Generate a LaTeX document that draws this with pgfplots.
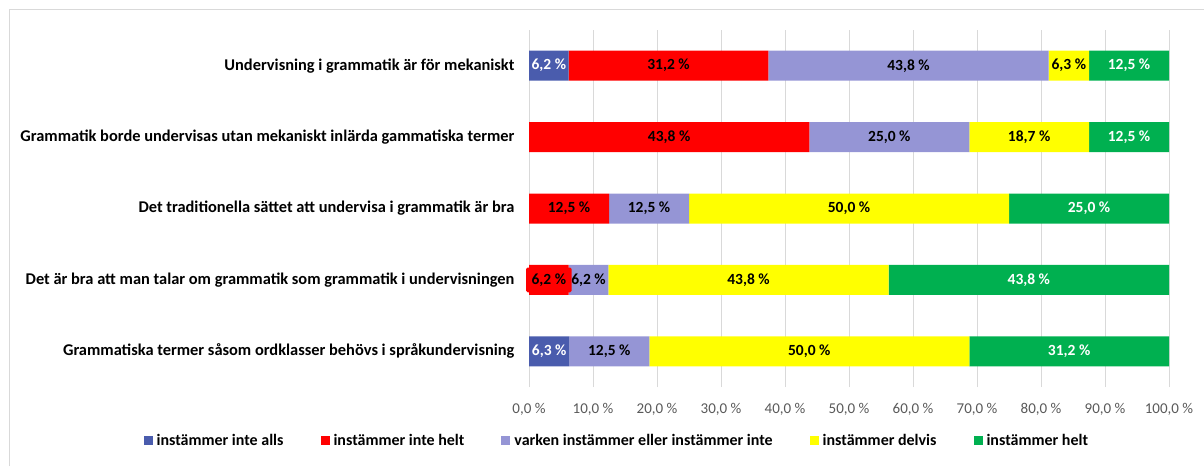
\documentclass[border=0pt]{standalone}
\usepackage{fontspec}
\setmainfont{Carlito}
\usepackage{pgfplots}
\usepackage{pgfplotstable}
\pgfplotsset{compat=1.18}

\definecolor{cA}{HTML}{4A5CAD}
\definecolor{cB}{HTML}{FF0000}
\definecolor{cC}{HTML}{9595D5}
\definecolor{cD}{HTML}{FFFF00}
\definecolor{cE}{HTML}{00B050}
\definecolor{gridgrey}{HTML}{D9D9D9}
\definecolor{tickgrey}{HTML}{595959}
\definecolor{framegrey}{HTML}{D9D9D9}

\newcommand\lblfont{\bfseries\fontsize{15.5}{17}\selectfont}

% y: 0 = bottom category ... 4 = top category
\pgfplotstableread{
y v
0 6.3
1 0
2 0
3 0
4 6.2
}\tblA
\pgfplotstableread{
y v
0 0
1 6.2
2 12.5
3 43.8
4 31.2
}\tblB
\pgfplotstableread{
y v
0 12.5
1 6.2
2 12.5
3 25.0
4 43.8
}\tblC
\pgfplotstableread{
y v
0 50.0
1 43.8
2 50.0
3 18.7
4 6.3
}\tblD
\pgfplotstableread{
y v
0 31.2
1 43.8
2 25.0
3 12.5
4 12.5
}\tblE

\pgfplotsset{
  sqlegend/.style={legend image code/.code={\fill[##1] (0pt,-4.5pt) rectangle (9pt,4.5pt);}},
  seglabel/.style={
    point meta=explicit,
    nodes near coords={\pgfmathfloatifflags{\pgfplotspointmeta}{0}{}{\pgfmathprintnumber[fixed,fixed zerofill,precision=1,use comma,assume math mode=true]{\pgfplotspointmeta}~\%}},
    nodes near coords align=center,
    every node near coord/.append style={anchor=center, font=\lblfont, text=#1, inner xsep=1pt},
  },
}

\begin{document}
\begin{tikzpicture}[x=1pt,y=1pt]
\useasboundingbox (0,0) rectangle (1204,466);
\draw[framegrey, line width=1pt] (9,0) -- (9,456) -- (1204,456);
\begin{axis}[
  at={(529pt,79pt)}, anchor=south west,
  width=640pt, height=357pt, scale only axis,
  xbar stacked, bar width=30pt,
  xmin=0, xmax=100, ymin=-0.5, ymax=4.5,
  xtick={0,10,...,100},
  xticklabels={{0,0 \%},{10,0 \%},{20,0 \%},{30,0 \%},{40,0 \%},{50,0 \%},{60,0 \%},{70,0 \%},{80,0 \%},{90,0 \%},{100,0 \%}},
  ytick={0,1,2,3,4},
  yticklabels={
    Grammatiska termer såsom ordklasser behövs i språkundervisning,
    Det är bra att man talar om grammatik som grammatik i undervisningen,
    Det traditionella sättet att undervisa i grammatik är bra,
    Grammatik borde undervisas utan mekaniskt inlärda gammatiska termer,
    Undervisning i grammatik är för mekaniskt},
  axis line style={draw=none},
  major tick length=0pt,
  xmajorgrids, ymajorgrids=false,
  major grid style={draw=gridgrey, line width=0.9pt},
  x tick label style={font=\fontsize{15}{17}\selectfont, text=tickgrey, anchor=base, yshift=-26pt},
  y tick label style={font=\bfseries\fontsize{16.4}{18}\selectfont, anchor=east, xshift=-11pt},
  legend columns=5,
  legend style={draw=none, fill=none, at={(-0.6025,-0.151)}, anchor=west, inner sep=0pt,
    font=\bfseries\fontsize{16}{18}\selectfont,
    /tikz/every even column/.append style={column sep=35pt},
    /tikz/every odd column/.append style={column sep=2pt}},
  every axis plot post/.append style={sqlegend},
]
\addplot[fill=cA, draw=none, seglabel=white] table[x=v, y=y, meta=v] {\tblA};
\addlegendentry{instämmer inte alls}
\addplot[fill=cB, draw=none, seglabel=black,
  every node near coord/.append style={fill=cB, inner xsep=5.5pt, inner ysep=6pt, rounded corners=1.5pt}] table[x=v, y=y, meta=v] {\tblB};
\addlegendentry{instämmer inte helt}
\addplot[fill=cC, draw=none, seglabel=black] table[x=v, y=y, meta=v] {\tblC};
\addlegendentry{varken instämmer eller instämmer inte}
\addplot[fill=cD, draw=none, seglabel=black] table[x=v, y=y, meta=v] {\tblD};
\addlegendentry{instämmer delvis}
\addplot[fill=cE, draw=none, seglabel=white] table[x=v, y=y, meta=v] {\tblE};
\addlegendentry{instämmer helt}
\end{axis}
\end{tikzpicture}
\end{document}
